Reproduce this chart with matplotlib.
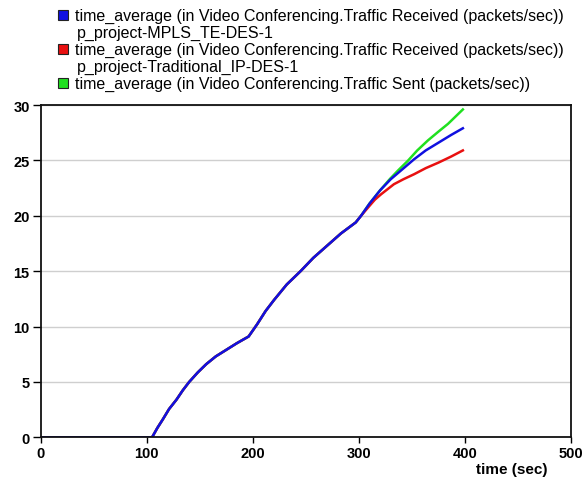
import matplotlib
matplotlib.use('Agg')
import matplotlib.pyplot as plt
from matplotlib.patches import Rectangle

plt.rcParams['font.family'] = ['Liberation Sans', 'DejaVu Sans']

# time-averaged video conferencing traffic (packets/sec)
# all three runs coincide until about t = 300 s
shared_time = [0, 105, 110, 115, 121, 128, 134, 140, 148, 156, 165, 175, 185,
               196, 204, 212, 220, 232, 245, 257, 270, 283, 297, 302]
shared_vals = [0, 0, 0.85, 1.6, 2.55, 3.4, 4.25, 5.0, 5.85, 6.6, 7.3, 7.9, 8.5,
               9.1, 10.2, 11.4, 12.4, 13.8, 15.0, 16.2, 17.3, 18.4, 19.4, 20.0]

mpls_time = shared_time + [310, 320, 330, 341, 352, 363, 375, 387, 398]
mpls_recv = shared_vals + [21.1, 22.3, 23.3, 24.2, 25.1, 25.9, 26.6, 27.3, 27.9]

ip_time = shared_time + [310, 315, 321, 327, 333, 342, 352, 363, 375, 387, 398]
ip_recv = shared_vals + [20.9, 21.45, 21.95, 22.4, 22.85, 23.3, 23.75, 24.3,
                         24.8, 25.35, 25.9]

sent_time = shared_time + [310, 320, 329, 337, 346, 355, 365, 375, 384, 391, 398]
sent = shared_vals + [21.1, 22.3, 23.3, 24.1, 24.95, 25.9, 26.8, 27.6, 28.3,
                      28.95, 29.6]

legend_entries = [
    ('#1010e0', 'time_average (in Video Conferencing.Traffic Received (packets/sec))',
     'p_project-MPLS_TE-DES-1'),
    ('#e81010', 'time_average (in Video Conferencing.Traffic Received (packets/sec))',
     'p_project-Traditional_IP-DES-1'),
    ('#20e020', 'time_average (in Video Conferencing.Traffic Sent (packets/sec))',
     None),
]

fig = plt.figure(figsize=(5.86, 4.81), dpi=100)
ax = fig.add_axes([0.0695, 0.0888, 0.905, 0.6908])

ax.plot(sent_time, sent, color='#20e020', linewidth=1.8)
ax.plot(ip_time, ip_recv, color='#e81010', linewidth=1.8)
ax.plot(mpls_time, mpls_recv, color='#1010e0', linewidth=1.8)

ax.set_xlim(0, 500)
ax.set_ylim(0, 30)
ax.set_xticks([0, 100, 200, 300, 400, 500])
ax.set_yticks([0, 5, 10, 15, 20, 25, 30])
ax.grid(axis='y', color='#cfcfcf', linewidth=1)
ax.set_axisbelow(True)
for side in ax.spines.values():
    side.set_linewidth(1.3)
    side.set_color('#111111')
ax.tick_params(axis='y', length=6, width=1, pad=2, labelsize=10.5)
ax.tick_params(axis='x', length=4, width=1, pad=2, labelsize=10.5)
for lbl in ax.get_xticklabels() + ax.get_yticklabels():
    lbl.set_fontweight('bold')

fig.text(0.935, 0.022, 'time (sec)', ha='right', va='center',
         fontsize=11, fontweight='bold')

# legend block above the plot
W, H = 586.0, 481.0
row = 16
for color, line1, line2 in legend_entries:
    fig.patches.append(Rectangle((58 / W, 1 - (row + 5) / H), 10 / W, 10 / H,
                                 transform=fig.transFigure, facecolor=color,
                                 edgecolor='#222222', linewidth=0.8))
    fig.text(75 / W, 1 - row / H, line1, ha='left', va='center', fontsize=11.5)
    row += 17
    if line2:
        fig.text(77 / W, 1 - row / H, line2, ha='left', va='center', fontsize=11.5)
        row += 17

fig.savefig('out.png', dpi=100)
